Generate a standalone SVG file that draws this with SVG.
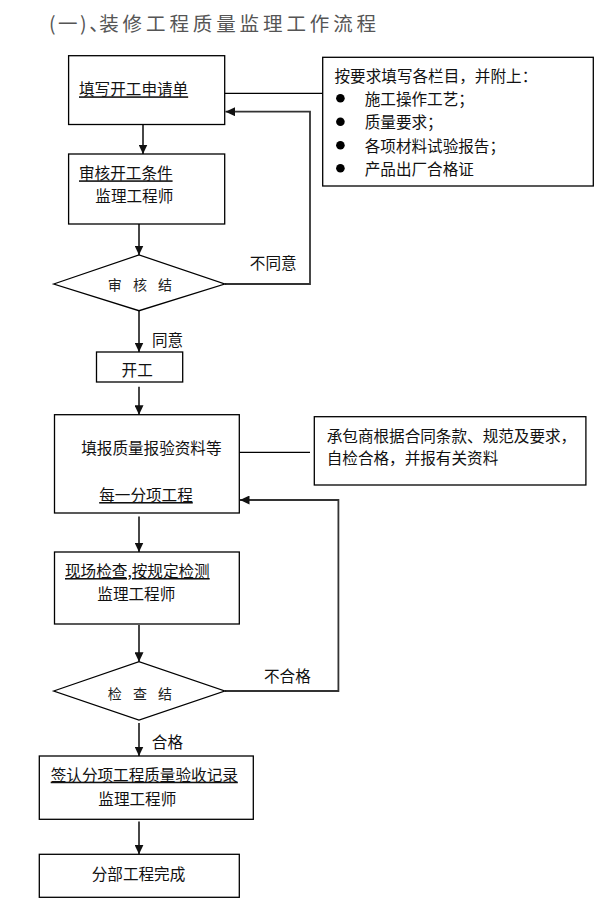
<svg xmlns="http://www.w3.org/2000/svg" width="614" height="915" viewBox="0 0 614 915">
<style>
  text { font-family: "Noto Sans CJK SC", "Noto Sans", sans-serif; font-size: 15.6px; fill: #111; dominant-baseline: central; }
  .title { font-size: 19.5px; fill: #555; }
  .dia { font-size: 14px; letter-spacing: 4px; fill: #222; }
  .u { text-decoration: underline; }
  .box { fill: #fff; stroke: #000; stroke-width: 1.3; }
  .conn { fill: none; stroke: #000; stroke-width: 1.2; }
  .arr { fill: none; stroke: #333; stroke-width: 1.8; marker-end: url(#ah); }
  .dot { fill: #000; }
</style>
<defs>
  <marker id="ah" markerUnits="userSpaceOnUse" markerWidth="10" markerHeight="9" refX="9.5" refY="4.5" orient="auto">
    <path d="M0,0 L9.5,4.5 L0,9 Z" fill="#111"/>
  </marker>
</defs>
<rect width="614" height="915" fill="#fff"/>

<text class="title" x="49" y="22"><tspan letter-spacing="2.5">(一)</tspan><tspan letter-spacing="-9.5">、</tspan><tspan letter-spacing="3.9">装修工程质量监理工作流程</tspan></text>

<g id="connectors">
  <line class="arr" x1="143" y1="124.5" x2="143" y2="154"/>
  <line class="conn" x1="224.7" y1="93.3" x2="322.7" y2="93.3"/>
  <polyline class="arr" points="224.7,284 310,284 310,111.7 225.5,111.7"/>
  <line class="arr" x1="139" y1="224" x2="139" y2="255"/>
  <line class="arr" x1="139" y1="311" x2="139" y2="352"/>
  <line class="arr" x1="139" y1="386.7" x2="139" y2="414.7"/>
  <line class="conn" x1="239.3" y1="452.3" x2="310" y2="452.3"/>
  <polyline class="arr" points="224.7,691 338.4,691 338.4,500 240,500"/>
  <line class="arr" x1="139" y1="516.5" x2="139" y2="552"/>
  <line class="arr" x1="139" y1="625" x2="139" y2="661.7"/>
  <line class="arr" x1="139" y1="723" x2="139" y2="756"/>
  <line class="arr" x1="139" y1="821.5" x2="139" y2="854.3"/>
  <text x="249.8" y="262">不同意</text>
  <text x="152" y="339">同意</text>
  <text x="264" y="675">不合格</text>
  <text x="151.8" y="740.7">合格</text>
</g>

<g id="node-apply">
  <rect class="box" x="68.6" y="55.7" width="156.1" height="68.8"/>
  <text class="u" x="79" y="88.3">填写开工申请单</text>
</g>

<g id="node-requirements">
  <rect class="box" x="322.7" y="57.3" width="270.6" height="128.7"/>
  <text x="334.5" y="75">按要求填写各栏目，并附上：</text>
  <circle class="dot" cx="340.4" cy="98.3" r="4.3"/>
  <circle class="dot" cx="340.4" cy="121.7" r="4.3"/>
  <circle class="dot" cx="340.4" cy="145.3" r="4.3"/>
  <circle class="dot" cx="340.4" cy="168.3" r="4.3"/>
  <text x="364.7" y="97.7">施工操作工艺；</text>
  <text x="364.7" y="121">质量要求；</text>
  <text x="364.7" y="145">各项材料试验报告；</text>
  <text x="364.7" y="168">产品出厂合格证</text>
</g>

<g id="node-review">
  <rect class="box" x="68.6" y="154" width="156.1" height="70"/>
  <text class="u" x="79" y="172.3">审核开工条件</text>
  <text x="95.3" y="195">监理工程师</text>
</g>

<g id="node-decision1">
  <polygon class="box" points="53.7,284 139,255 224.7,284 139,310.7"/>
  <text class="dia" x="107.8" y="284">审 核 结</text>
</g>

<g id="node-start">
  <rect class="box" x="96.5" y="352" width="86.2" height="30"/>
  <text x="121.6" y="369">开工</text>
</g>

<g id="node-report">
  <rect class="box" x="54.5" y="414.7" width="184.8" height="98.3"/>
  <text x="81.2" y="446.7">填报质量报验资料等</text>
  <text class="u" x="99.2" y="494">每一分项工程</text>
</g>

<g id="node-contractor">
  <rect class="box" x="314.3" y="416.7" width="271.6" height="68.3"/>
  <text x="326.7" y="435">承包商根据合同条款、规范及要求，</text>
  <text x="326.7" y="457">自检合格，并报有关资料</text>
</g>

<g id="node-inspect">
  <rect class="box" x="54.5" y="552" width="184.8" height="72"/>
  <text class="u" x="65" y="570">现场检查,按规定检测</text>
  <text x="97.3" y="592.7">监理工程师</text>
</g>

<g id="node-decision2">
  <polygon class="box" points="53.7,691 139,661.7 224.7,691 139,720"/>
  <text class="dia" x="107.8" y="692.7">检 查 结</text>
</g>

<g id="node-sign">
  <rect class="box" x="39.3" y="756" width="214" height="63.3"/>
  <text class="u" x="50.7" y="773.7">签认分项工程质量验收记录</text>
  <text x="98.3" y="798.3">监理工程师</text>
</g>

<g id="node-finish">
  <rect class="box" x="39.3" y="854.3" width="200" height="43"/>
  <text x="91.7" y="872.7">分部工程完成</text>
</g>
</svg>
